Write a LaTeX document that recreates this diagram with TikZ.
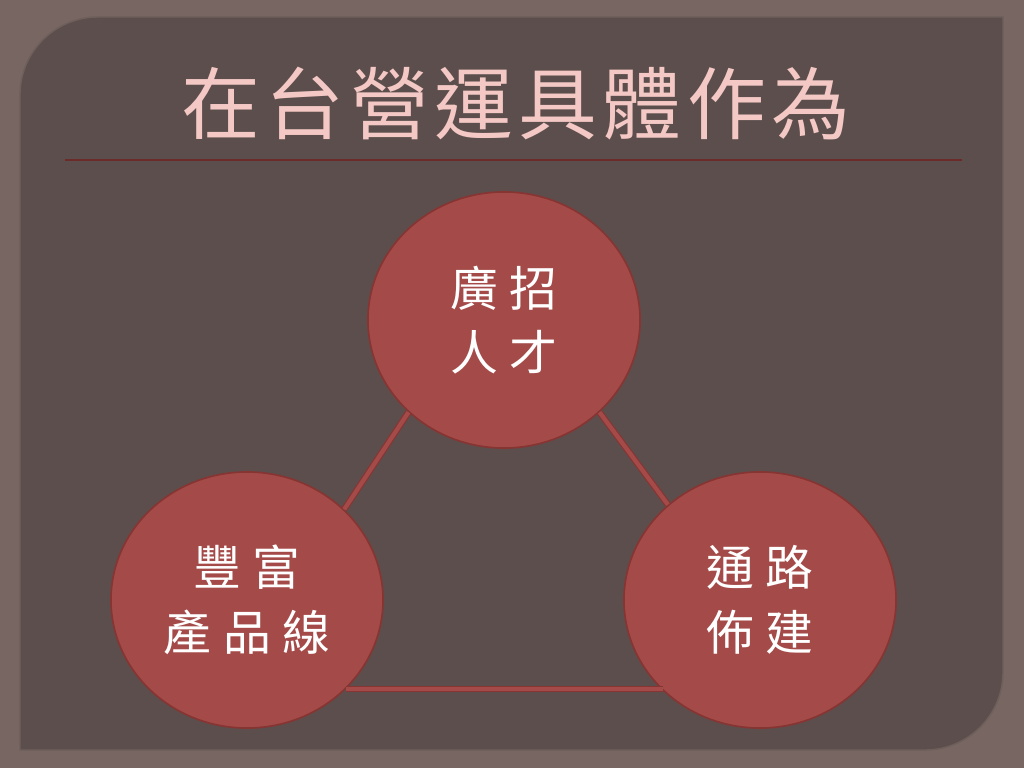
\documentclass[tikz,border=0pt]{standalone}
\usepackage{fontspec}
\usepackage{tikz}
\usetikzlibrary{shapes.geometric}
\newfontfamily\cjktitulo[LetterSpace=7]{Noto Sans CJK TC}
\newfontfamily\cjktexto[LetterSpace=25]{Noto Sans CJK TC}
\definecolor{fondomarron}{HTML}{776661}
\definecolor{panelmarron}{HTML}{5C4E4C}
\definecolor{bordepanel}{HTML}{6E5F5B}
\definecolor{rojoladrillo}{HTML}{A44B49}
\definecolor{rojooscuro}{HTML}{873533}
\definecolor{rosatitulo}{HTML}{F4C8C4}
\tikzset{
  bulle/.style={
    ellipse,
    draw=rojooscuro,
    line width=1.2pt,
    fill=rojoladrillo,
    minimum width=6.8cm,
    minimum height=6.4cm,
    inner sep=0pt,
    align=center,
    text=white,
    font=\cjktexto\fontsize{34}{46}\selectfont
  },
  enlace/.style={
    draw=rojooscuro,
    line width=0.8pt,
    double=rojoladrillo,
    double distance=3pt
  }
}
\begin{document}
\begin{tikzpicture}[x=0.025cm,y=-0.025cm]
\useasboundingbox (0,0) rectangle (1024,768);
\fill[fondomarron] (0,0) rectangle (1024,768);
% panel
\filldraw[fill=panelmarron, draw=bordepanel, line width=1pt]
  (20,750) -- (20,95) arc[start angle=180, end angle=270, radius=78]
  -- (1003,17) -- (1003,672) arc[start angle=0, end angle=90, radius=78]
  -- cycle;
% titulo
\node[text=rosatitulo, font=\cjktitulo\fontsize{56}{66}\selectfont] (titulo) at (516,104) {在台營運具體作為};
\coordinate (ri) at (65,160);
\coordinate (rd) at (962,160);
\draw[rojooscuro!80!black, line width=1.2pt] (ri) -- (rd);
% circulos
\node[bulle] (rencai) at (504,320) {廣招\\人才};
\node[bulle] (chanpin) at (247,600) {豐富\\產品線};
\node[bulle] (tonglu) at (760,600) {通路\\佈建};
\draw[enlace] (rencai.224) -- (chanpin.43);
\draw[enlace] (rencai.316) -- (tonglu.134);
\draw[enlace] (chanpin.318) -- (chanpin.318 -| tonglu.223);
\end{tikzpicture}
\end{document}
